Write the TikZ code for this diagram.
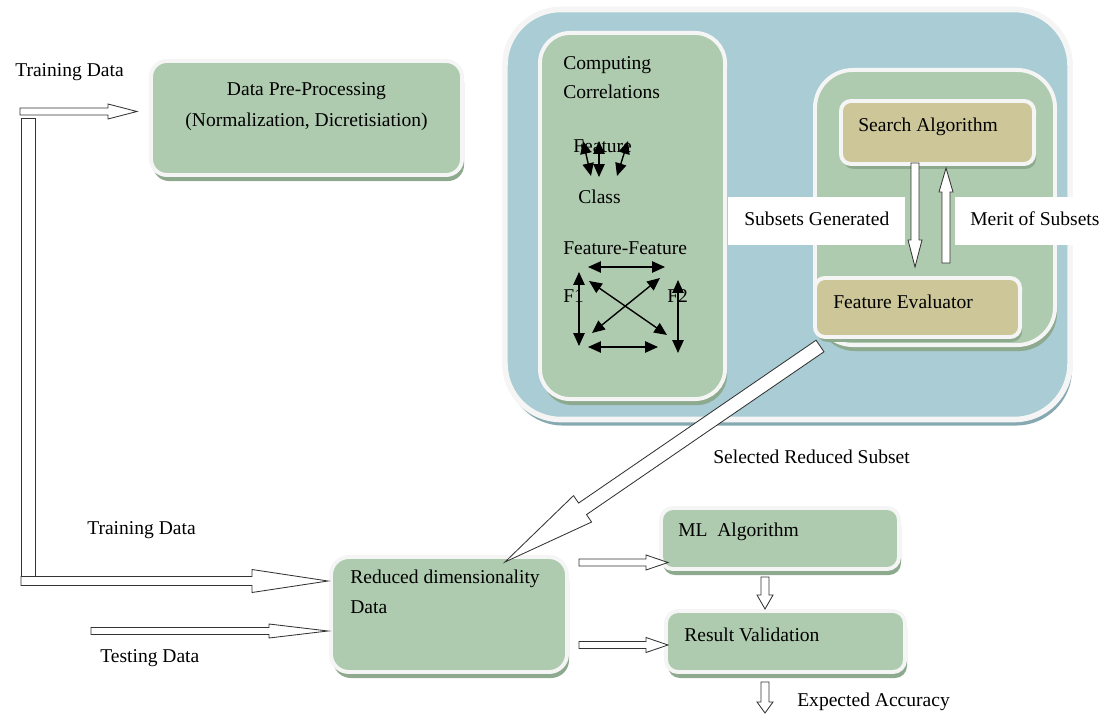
\documentclass[tikz,border=0pt]{standalone}
\usepackage{fontspec}
\setmainfont{Liberation Serif}
\usetikzlibrary{calc,arrows.meta,shadows}

\definecolor{boxgreen}{HTML}{AFCBAF}
\definecolor{boxblue}{HTML}{A9CCD5}
\definecolor{boxtan}{HTML}{CDC699}
\definecolor{rimwhite}{HTML}{F4F5F4}
\definecolor{shadegreen}{HTML}{8DA98E}
\definecolor{shadeblue}{HTML}{86A9B1}

\tikzset{
  panel/.style={draw=rimwhite, line width=2.8pt, inner sep=0pt, outer sep=0pt},
  greenbox/.style={panel, fill=boxgreen, rounded corners=0.35cm,
    drop shadow={shadow xshift=0.05cm, shadow yshift=-0.15cm, fill=shadegreen, opacity=1}},
  tanbox/.style={panel, fill=boxtan, rounded corners=0.25cm,
    drop shadow={shadow xshift=0.05cm, shadow yshift=-0.12cm, fill=shadegreen, opacity=1}},
  bluebox/.style={panel, fill=boxblue, line width=4pt, rounded corners=1.4cm,
    drop shadow={shadow xshift=0.05cm, shadow yshift=-0.15cm, fill=shadeblue, opacity=1}},
  hollow/.style={draw=black!80, fill=white, line width=0.6pt, line join=miter},
  tag/.style={inner sep=0pt, anchor=west},
  twoway/.style={{Triangle[length=0.32cm,width=0.28cm]}-{Triangle[length=0.32cm,width=0.28cm]}, line width=1pt},
}

% hollow block arrow: [options]{from}{to}{half shaft}{half head}{head length}
\newcommand{\blockarrow}[6][]{%
  \coordinate (bh) at ($(#3)!#6!(#2)$);
  \draw[hollow,#1] ($(#2)!#4!90:(#3)$) -- ($(bh)!#4!90:(#3)$) -- ($(bh)!#5!90:(#3)$) -- (#3)
    -- ($(bh)!#5!-90:(#3)$) -- ($(bh)!#4!-90:(#3)$) -- ($(#2)!#4!-90:(#3)$) -- cycle;
}

\begin{document}
\begin{tikzpicture}[x=0.025cm, y=-0.025cm, font=\fontsize{13.9}{16}\selectfont]
  \useasboundingbox (0,0) rectangle (1103,715);

  % feature selection block
  \node[bluebox, minimum width=14.125cm, minimum height=10.25cm] (fs) at (787.5,214.5) {};
  \node[greenbox, rounded corners=0.75cm, minimum width=4.625cm, minimum height=9.15cm] (corr) at (632.5,216) {};
  \node[greenbox, rounded corners=0.95cm, minimum width=6cm, minimum height=6.875cm] (wrap) at (935,207.5) {};
  \node[tanbox, minimum width=4.825cm, minimum height=1.575cm] (search) at (937.5,132.5) {};
  \node[tanbox, minimum width=5.125cm, minimum height=1.475cm] (eval) at (917.5,307.5) {};

  \node[tag, align=left, font=\fontsize{13.9}{20.6}\selectfont] (corrtxt) at (563,77.5) {Computing\\Correlations};
  \node[tag] (feat) at (573,146) {Feature};
  \node[tag] (cls) at (578,197) {Class};
  \node[tag] (ff) at (563,248) {Feature-Feature};
  \node[tag] (f1) at (563,296) {F1};
  \node[tag] (f2) at (667,296) {F2};
  \node[tag] (searchtxt) at (858,127) {Search Algorithm};
  \node[tag] (evaltxt) at (833,302) {Feature Evaluator};

  % feature -> class
  \coordinate (fc1) at (583,141); \coordinate (cl1) at (591,176);
  \coordinate (fc2) at (599,141); \coordinate (cl2) at (599,177);
  \coordinate (fc3) at (628,141); \coordinate (cl3) at (617,176);
  \draw[twoway] (fc1) -- (cl1);
  \draw[twoway] (fc2) -- (cl2);
  \draw[twoway] (fc3) -- (cl3);

  % feature <-> feature
  \coordinate (ta) at (588,267); \coordinate (tb) at (665,267);
  \coordinate (ba) at (588,347); \coordinate (bb) at (658,347);
  \coordinate (la) at (579,272); \coordinate (lb) at (579,346);
  \coordinate (ra) at (678,280); \coordinate (rb) at (678,353);
  \coordinate (da) at (589,281); \coordinate (db) at (667,335);
  \coordinate (ea) at (660,278); \coordinate (eb) at (592,333);
  \draw[twoway] (ta) -- (tb);
  \draw[twoway] (ba) -- (bb);
  \draw[twoway] (la) -- (lb);
  \draw[twoway] (ra) -- (rb);
  \draw[twoway] (da) -- (db);
  \draw[twoway] (ea) -- (eb);

  \node[fill=white, anchor=west, minimum width=4.425cm, minimum height=1.2cm] (gen) at (728,221) {\raisebox{3pt}{Subsets Generated}};
  \node[fill=white, anchor=west, inner xsep=0.375cm, minimum height=1.2cm] (merit) at (955,221) {\raisebox{3pt}{Merit of Subsets}};

  \coordinate (gen-a) at (915,163); \coordinate (gen-b) at (915,267);
  \coordinate (mer-a) at (946,263); \coordinate (mer-b) at (946,168);
  \blockarrow{gen-a}{gen-b}{0.1cm}{0.175cm}{0.675cm}
  \blockarrow{mer-a}{mer-b}{0.1cm}{0.175cm}{0.6cm}

  % pre-processing and classification
  \node[greenbox, rounded corners=0.4cm, minimum width=7.775cm, minimum height=2.85cm] (prep) at (306.5,118) {};
  \node[align=center, inner sep=0pt, font=\fontsize{13.9}{22}\selectfont] (preptxt) at (306.5,106.5) {Data Pre-Processing\\(Normalization, Dicretisiation)};
  \node[greenbox, rounded corners=0.45cm, minimum width=5.9cm, minimum height=2.875cm] (red) at (449,614.5) {};
  \node[tag, align=left, font=\fontsize{13.9}{21.3}\selectfont] (redtxt) at (350,592) {Reduced dimensionality\\Data};
  \node[greenbox, rounded corners=0.3cm, minimum width=5.95cm, minimum height=1.525cm] (ml) at (780,538.5) {};
  \node[tag] (mltxt) at (678,532) {ML~~Algorithm};
  \node[greenbox, rounded corners=0.3cm, minimum width=5.975cm, minimum height=1.525cm] (res) at (785.5,641.5) {};
  \node[tag] (restxt) at (684,635) {Result Validation};

  \node[tag] (train1) at (15,72) {Training Data};
  \node[tag] (train2) at (87,530) {Training Data};
  \node[tag] (test) at (100,658) {Testing Data};
  \node[tag] (sel) at (713,457) {Selected Reduced Subset};
  \node[tag] (acc) at (797,702) {Expected Accuracy};

  % block arrows
  \coordinate (tr-a) at (20,111.5); \coordinate (tr-b) at (137,111.5);
  \coordinate (tr2-a) at (21,581); \coordinate (tr2-b) at (328,581);
  \coordinate (te-a) at (91,631); \coordinate (te-b) at (328,631);
  \coordinate (ml-a) at (579,562.5); \coordinate (ml-b) at (668,562.5);
  \coordinate (rs-a) at (579,645); \coordinate (rs-b) at (668,645);
  \coordinate (dn-a) at (765,577); \coordinate (dn-b) at (765,609);
  \coordinate (acc-a) at (765,682); \coordinate (acc-b) at (765,713);
  \coordinate (sel-a) at (820,346); \coordinate (sel-b) at (505,562);

  \blockarrow{tr-a}{tr-b}{0.0875cm}{0.1875cm}{0.725cm}
  \draw[hollow] (21,118) rectangle (35,577);
  \blockarrow{tr2-a}{tr2-b}{0.1125cm}{0.2875cm}{1.9cm}
  \blockarrow{te-a}{te-b}{0.0875cm}{0.175cm}{1.475cm}
  \blockarrow{ml-a}{ml-b}{0.0875cm}{0.1875cm}{0.55cm}
  \blockarrow{rs-a}{rs-b}{0.0875cm}{0.1875cm}{0.55cm}
  \blockarrow{dn-a}{dn-b}{0.1cm}{0.2cm}{0.35cm}
  \blockarrow{acc-a}{acc-b}{0.1cm}{0.2cm}{0.275cm}
  \blockarrow{sel-a}{sel-b}{0.175cm}{0.4cm}{2.35cm}
\end{tikzpicture}
\end{document}
